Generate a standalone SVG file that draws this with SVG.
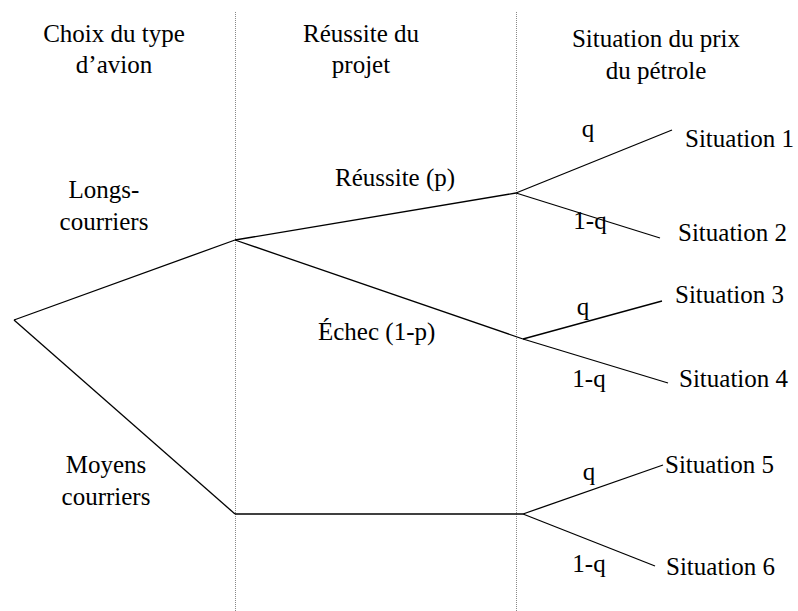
<svg xmlns="http://www.w3.org/2000/svg" width="798" height="611" viewBox="0 0 798 611">
<style>
text{font-size:25px;fill:#000}
.c{text-anchor:middle}
.sep{stroke:#888;stroke-width:1;stroke-dasharray:1 1;fill:none}
.e{stroke:#000;stroke-width:1.3;fill:none}
</style>
<rect width="798" height="611" fill="#fff"/>
<g id="separators">
<line class="sep" x1="235.5" y1="12" x2="235.5" y2="611"/>
<line class="sep" x1="516.5" y1="12" x2="516.5" y2="611"/>
</g>
<g font-family="Liberation Serif, Times New Roman, DejaVu Serif, serif">
<g id="headers">
<text class="c" x="114" y="42">Choix du type</text>
<text class="c" x="114" y="73">d’avion</text>
<text class="c" x="361" y="42">Réussite du</text>
<text class="c" x="361" y="73">projet</text>
<text class="c" x="656" y="47">Situation du prix</text>
<text class="c" x="656" y="79">du pétrole</text>
</g>
<g id="connectors">
<line class="e" x1="14" y1="320" x2="235" y2="240"/>
<line class="e" x1="14" y1="320" x2="235" y2="514"/>
<line class="e" x1="235" y1="240" x2="516" y2="193"/>
<line class="e" x1="235" y1="240" x2="523" y2="339"/>
<line class="e" x1="235" y1="514" x2="523" y2="514"/>
<line class="e" x1="516" y1="193" x2="672" y2="130"/>
<line class="e" x1="516" y1="193" x2="660" y2="238"/>
<line class="e" x1="523" y1="339" x2="662" y2="301"/>
<line class="e" x1="523" y1="339" x2="668" y2="383"/>
<line class="e" x1="523" y1="514" x2="663" y2="465"/>
<line class="e" x1="523" y1="514" x2="655" y2="566"/>
</g>
<g id="edge-labels">
<text x="335" y="186">Réussite (p)</text>
<text x="318" y="340">Échec (1-p)</text>
<text class="c" x="588" y="137">q</text>
<text class="c" x="590" y="229">1-q</text>
<text class="c" x="583" y="315">q</text>
<text class="c" x="589" y="387">1-q</text>
<text class="c" x="589" y="480">q</text>
<text class="c" x="589" y="572">1-q</text>
</g>
<g id="node-long"><text class="c" x="104" y="198">Longs-</text><text class="c" x="104" y="230">courriers</text></g>
<g id="node-moyen"><text class="c" x="106" y="473">Moyens</text><text class="c" x="106" y="505">courriers</text></g>
<g id="node-s1"><text x="685" y="147">Situation 1</text></g>
<g id="node-s2"><text x="678" y="241">Situation 2</text></g>
<g id="node-s3"><text x="675" y="303">Situation 3</text></g>
<g id="node-s4"><text x="679" y="387">Situation 4</text></g>
<g id="node-s5"><text x="665" y="473">Situation 5</text></g>
<g id="node-s6"><text x="666" y="575">Situation 6</text></g>
</g>
</svg>
